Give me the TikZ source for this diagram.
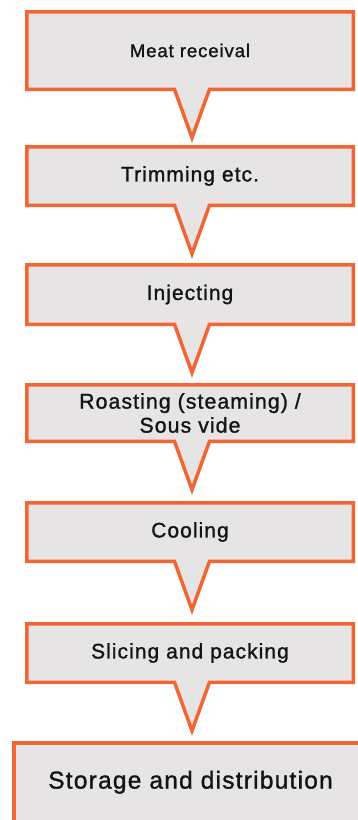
\documentclass[tikz,border=0pt]{standalone}
\usepackage{fontspec}
\setmainfont{Liberation Sans}
\newfontfamily\labfont{Liberation Sans}[LetterSpace=5,FakeBold=1.2]
\usetikzlibrary{calc,backgrounds}
\definecolor{edge}{RGB}{241,102,50}
\definecolor{boxfill}{RGB}{230,228,229}
\definecolor{ink}{RGB}{20,20,20}
\tikzset{
  stepnode/.style={minimum width=326.5pt, inner sep=0pt, outer sep=0pt, text=ink,
    align=center, font=\labfont\fontsize{21}{24}\selectfont},
  outline/.style={draw=edge, fill=boxfill, line width=3.5pt, line join=miter, miter limit=20},
}
\newcommand\calloutshape[2]{%
  \draw[outline] (#1.north west) -- (#1.north east) -- (#1.south east)
    -- ([xshift=19.5pt]#1.south) -- (#2) -- ([xshift=-15.5pt]#1.south)
    -- (#1.south west) -- cycle;}
\begin{document}
\begin{tikzpicture}[x=1pt,y=-1pt]
\useasboundingbox (0,0) rectangle (358,820);
\node[stepnode, minimum height=77.5pt, font=\labfont\fontsize{18.5}{21}\selectfont] (b1) at (190,50.5) {Meat receival};
\node[stepnode, minimum height=58.5pt] (b2) at (190,176) {Trimming etc.};
\node[stepnode, minimum height=59.5pt] (b3) at (190,294.5) {Injecting};
\node[stepnode, minimum height=56.5pt, font=\labfont\fontsize{21.3}{24}\selectfont] (b4) at (190,413) {Roasting (steaming) /\\Sous vide};
\node[stepnode, minimum height=58.5pt] (b5) at (190,532) {Cooling};
\node[stepnode, minimum height=58.5pt] (b6) at (190,653) {Slicing and packing};
\node[stepnode, minimum width=353.5pt, minimum height=79pt, font=\labfont\fontsize{24.5}{28}\selectfont] (b7) at (190.5,782.25) {Storage and distribution};
\foreach \i in {1,...,6}{
  \coordinate (t\i) at ([xshift=2pt,yshift=-48.5pt]b\i.south);
}
\begin{scope}[on background layer]
  \foreach \i in {1,...,6}{ \calloutshape{b\i}{t\i} }
  \draw[outline] (b7.north west) rectangle (b7.south east);
\end{scope}
\end{tikzpicture}
\end{document}
